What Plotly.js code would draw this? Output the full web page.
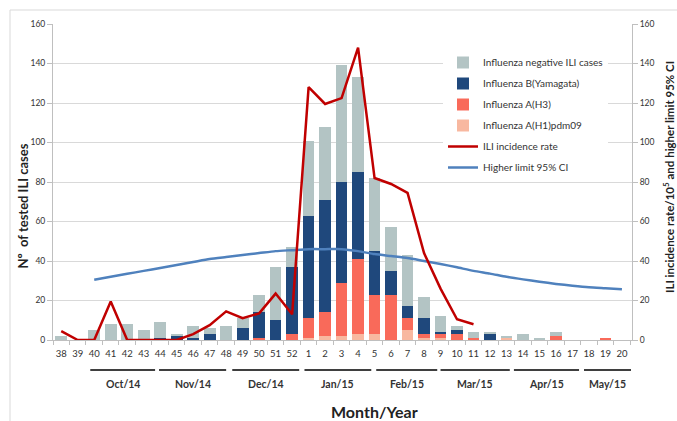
<!DOCTYPE html>
<html><head><meta charset="utf-8">
<script src="https://cdn.plot.ly/plotly-3.0.1.min.js"></script>
<style>html,body{margin:0;padding:0;background:#fff;}#chart{width:677px;height:421px;}</style>
</head><body><div id="chart"></div>
<script>
// ---- data ----
const weeks = ['38','39','40','41','42','43','44','45','46','47','48','49','50','51','52',
               '1','2','3','4','5','6','7','8','9','10','11','12','13','14','15','16','17','18','19','20'];
const negativeCases = [2,0,5,8,8,5,8,1,6,3,7,5,9,27,10,38,37,59,48,37,22,26,11,8,2,3,1,1,3,1,2,0,0,0,0];
const bYamagata     = [0,0,0,0,0,0,1,2,1,3,0,6,13,10,34,52,57,51,44,22,12,6,8,1,2,0,3,0,0,0,0,0,0,0,0];
const aH3           = [0,0,0,0,0,0,0,0,0,0,0,0,1,0,3,10,12,27,38,20,23,6,2,2,3,1,0,0,0,0,2,0,0,1,0];
const aH1pdm09      = [0,0,0,0,0,0,0,0,0,0,0,0,0,0,0,1,2,2,3,3,0,5,1,1,0,0,0,1,0,0,0,0,0,0,0];
const iliRate = [4.5,0,0,19.5,0,0,0,0,3,7.5,14.5,11,13.5,23.5,13,128,119.5,122.5,148,82,79,74.5,44,26,10.5,8,
                 null,null,null,null,null,null,null,null,null];
const ciUpper = [null,null,30.5,32,33.5,35,36.5,38,39.5,41,42,43,44,45,45.5,46,46,46,45,43.5,42.5,41.5,40,38.5,
                 36.8,35,33.6,32,30.7,29.5,28.4,27.5,26.7,26.2,25.7];
const monthLabels = ['Oct/14','Nov/14','Dec/14','Jan/15','Feb/15','Mar/15','Apr/15','May/15'];
const monthFrom = [2.26,6.43,10.87,15.25,19.6,23.5,27.95,32.2];
const monthTo   = [6.19,10.5,14.93,19.3,23.3,27.7,31.9,35.05];

// ---- styling ----
const FONT = 'Lato, "Open Sans", sans-serif';
const TXT = '#333333';
const PLOT_L = 53, PLOT_R = 632, PLOT_T = 24, PLOT_B = 340, W = 677, H = 421;
const px2x = p => (p - PLOT_L) / (PLOT_R - PLOT_L);
const px2y = p => (PLOT_B - p) / (PLOT_B - PLOT_T);

function barTrace(name, vals, color, rank){
  return {type:'bar', name:name, x:weeks, y:vals, marker:{color:color, line:{width:0}},
          legendrank:rank, legendgroup:'g'+rank, hoverinfo:'skip'};
}
const traces = [
  barTrace('Influenza A(H1)pdm09', aH1pdm09, '#f8b8a0', 4),
  barTrace('Influenza A(H3)', aH3, '#f96a5a', 3),
  barTrace('Influenza B(Yamagata)', bYamagata, '#1f487c', 2),
  barTrace('Influenza negative ILI cases', negativeCases, '#b3c4c4', 1),
  {type:'scatter', mode:'lines', name:'Higher limit 95% CI', x:weeks, y:ciUpper, yaxis:'y2',
   line:{color:'#4f81bd', width:2.5, shape:'spline', smoothing:0.6}, connectgaps:false,
   legendrank:6, legendgroup:'g6', hoverinfo:'skip'},
  {type:'scatter', mode:'lines', name:'ILI incidence rate', x:weeks, y:iliRate, yaxis:'y2',
   line:{color:'#c00000', width:2.5}, connectgaps:false,
   legendrank:5, legendgroup:'g5', hoverinfo:'skip'}
];

const shapes = [
  {type:'rect', xref:'paper', yref:'paper', x0:px2x(10), x1:px2x(690), y0:px2y(10), y1:px2y(440),
   line:{color:'#d9d9d9', width:1}, fillcolor:'rgba(0,0,0,0)', layer:'below'}
];
const annotations = [];
monthLabels.forEach((m, i) => {
  shapes.push({type:'line', xref:'x', yref:'paper', x0:monthFrom[i]-0.5, x1:monthTo[i]-0.5,
               y0:px2y(370), y1:px2y(370), line:{color:'#3f3f3f', width:2}});
  annotations.push({xref:'x', yref:'paper', x:(monthFrom[i]+monthTo[i])/2-0.5, y:px2y(384),
               text:'<b>'+m+'</b>', showarrow:false, xanchor:'center', yanchor:'middle',
               font:{family:FONT, size:10.5, color:TXT}});
});
annotations.push({xref:'paper', yref:'paper', x:px2x(374), y:px2y(411), text:'<b>Month/Year</b>',
  showarrow:false, xanchor:'center', yanchor:'middle', font:{family:FONT, size:16, color:'#222'}});
annotations.push({xref:'paper', yref:'paper', x:px2x(22.5), y:px2y(206), text:'<b>Nº  of tested ILI cases</b>',
  textangle:-90, showarrow:false, xanchor:'center', yanchor:'middle', font:{family:FONT, size:13, color:'#222'}});
annotations.push({xref:'paper', yref:'paper', x:px2x(668), y:px2y(177),
  text:'<b>ILI incidence rate/10<sup>5</sup> and higher limit 95% CI</b>',
  textangle:-90, showarrow:false, xanchor:'center', yanchor:'middle', font:{family:FONT, size:11.5, color:'#222'}});

const yAxisCommon = {range:[0,160], dtick:20, tick0:0, ticks:'outside', ticklen:5, tickcolor:'#bfbfbf',
  showline:true, linecolor:'#bfbfbf', linewidth:1, zeroline:false, fixedrange:true,
  tickfont:{family:FONT, size:8.5, color:TXT}};

const layout = {
  width:W, height:H,
  margin:{l:PLOT_L, r:W-PLOT_R, t:PLOT_T, b:H-PLOT_B, pad:0},
  paper_bgcolor:'#ffffff', plot_bgcolor:'#ffffff',
  barmode:'stack', bargap:0.29,
  font:{family:FONT, color:TXT},
  xaxis:{type:'category', categoryorder:'array', categoryarray:weeks,
    ticks:'outside', tickson:'boundaries', ticklen:4, tickcolor:'#bfbfbf',
    showline:true, linecolor:'#bfbfbf', showgrid:false, zeroline:false,
    tickfont:{family:FONT, size:9.5, color:TXT}, ticklabelstandoff:5, tickangle:0},
  yaxis:Object.assign({}, yAxisCommon, {showgrid:true, gridcolor:'#d9d9d9', gridwidth:1}),
  yaxis2:Object.assign({}, yAxisCommon, {overlaying:'y', side:'right', showgrid:false}),
  legend:{x:px2x(443), xanchor:'left', y:px2y(48), yanchor:'top', bgcolor:'#ffffff',
    font:{family:FONT, size:10, color:TXT}, traceorder:'grouped', tracegroupgap:2, itemwidth:30},
  showlegend:true,
  shapes:shapes, annotations:annotations
};

Plotly.newPlot('chart', traces, layout, {staticPlot:true, displayModeBar:false});
</script>
</body></html>
